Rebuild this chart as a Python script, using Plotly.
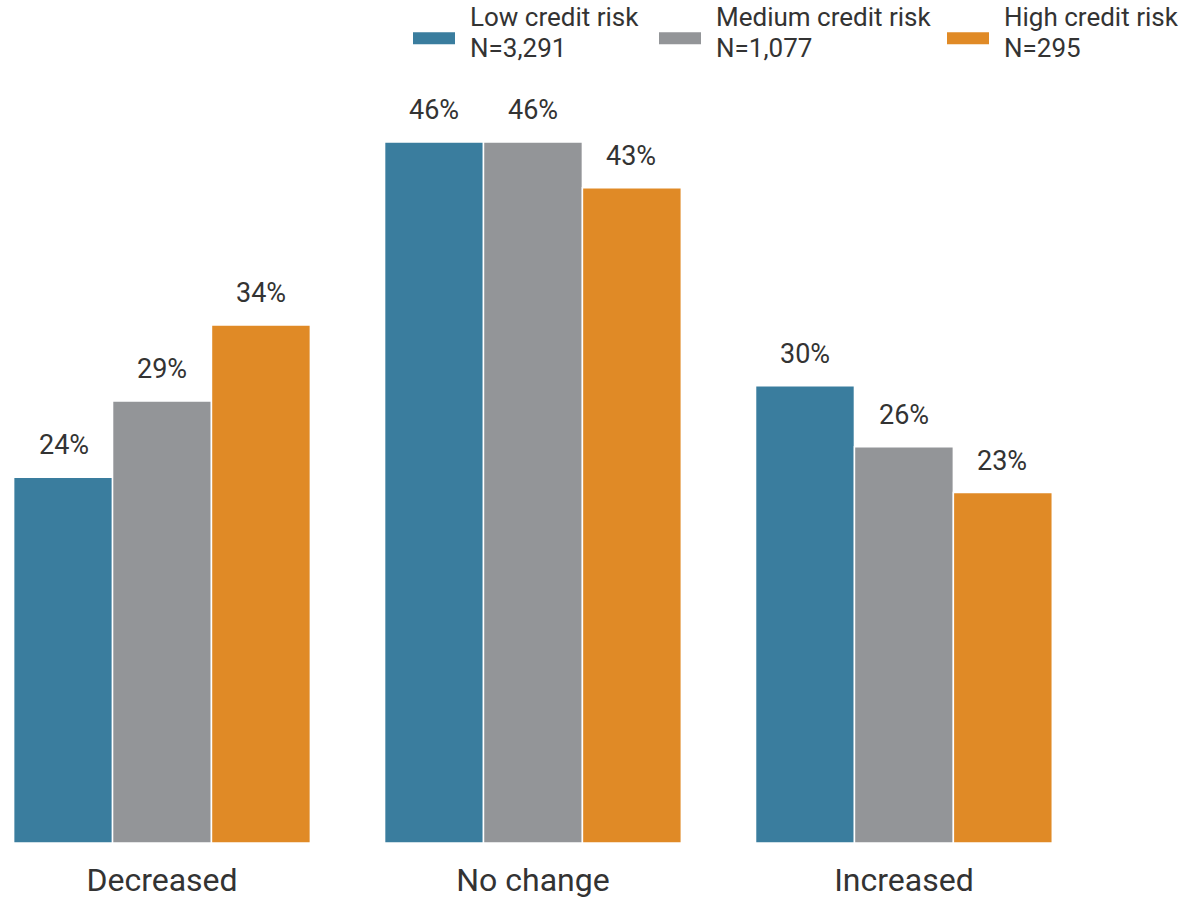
import plotly.graph_objects as go

categories = ["Decreased", "No change", "Increased"]
series_names = ["Low credit risk", "Medium credit risk", "High credit risk"]
series_n = ["N=3,291", "N=1,077", "N=295"]
low_vals = [24, 46, 30]
medium_vals = [29, 46, 26]
high_vals = [34, 43, 23]
colors = ["#3a7d9e", "#939598", "#e08a26"]

all_vals = [low_vals, medium_vals, high_vals]
FONT = "Roboto"
TXT = "#333333"
W, H = 1194, 899
TOP, BOT = 100, 53
PH = H - TOP - BOT

fig = go.Figure()
bar_offsets_px = [-98.5, 0, 98.5]
for name, vals, col, dx in zip(series_names, all_vals, colors, bar_offsets_px):
    fig.add_trace(go.Bar(
        x=categories, y=vals, name=name,
        marker=dict(color=col, line=dict(color="white", width=1.5)),
        showlegend=False,
        hoverinfo="x+y+name",
    ))
    for c, v in zip(categories, vals):
        fig.add_annotation(x=c, y=v, text=f"{v}%", showarrow=False,
                           xshift=dx, yshift=32, yanchor="middle",
                           font=dict(family=FONT, size=27, color=TXT))

# custom legend (wide swatches, two-line labels)
legend_x = [413, 659, 947]
for i, (name, n, col) in enumerate(zip(series_names, series_n, colors)):
    x0 = legend_x[i]
    fig.add_shape(type="rect", xref="paper", yref="paper",
                  x0=x0 / W, x1=(x0 + 42) / W,
                  y0=1 + (TOP - 44) / PH, y1=1 + (TOP - 32) / PH,
                  line=dict(width=0), fillcolor=col)
    for label, ypx in ((name, 16.5), (n, 47.5)):
        fig.add_annotation(xref="paper", yref="paper",
                           x=(x0 + 56) / W, y=1 + (TOP - ypx) / PH,
                           xanchor="left", yanchor="middle", showarrow=False,
                           borderpad=0,
                           text=label,
                           font=dict(family=FONT, size=26, color=TXT))

fig.update_layout(
    barmode="group", bargap=0.2, bargroupgap=0,
    width=W, height=H,
    margin=dict(l=0, r=0, t=TOP, b=BOT),
    paper_bgcolor="white", plot_bgcolor="white",
    font=dict(family=FONT, color=TXT),
    xaxis=dict(range=[-0.4367, 2.782], showgrid=False, zeroline=False,
               showline=False, ticks="outside", ticklen=9, tickcolor="rgba(0,0,0,0)",
               tickfont=dict(family=FONT, size=32, color=TXT)),
    yaxis=dict(range=[0, PH / 15.3], visible=False),
)
fig.write_html("out.html", config={"displayModeBar": False},
               post_script="document.body.style.margin='0';")
